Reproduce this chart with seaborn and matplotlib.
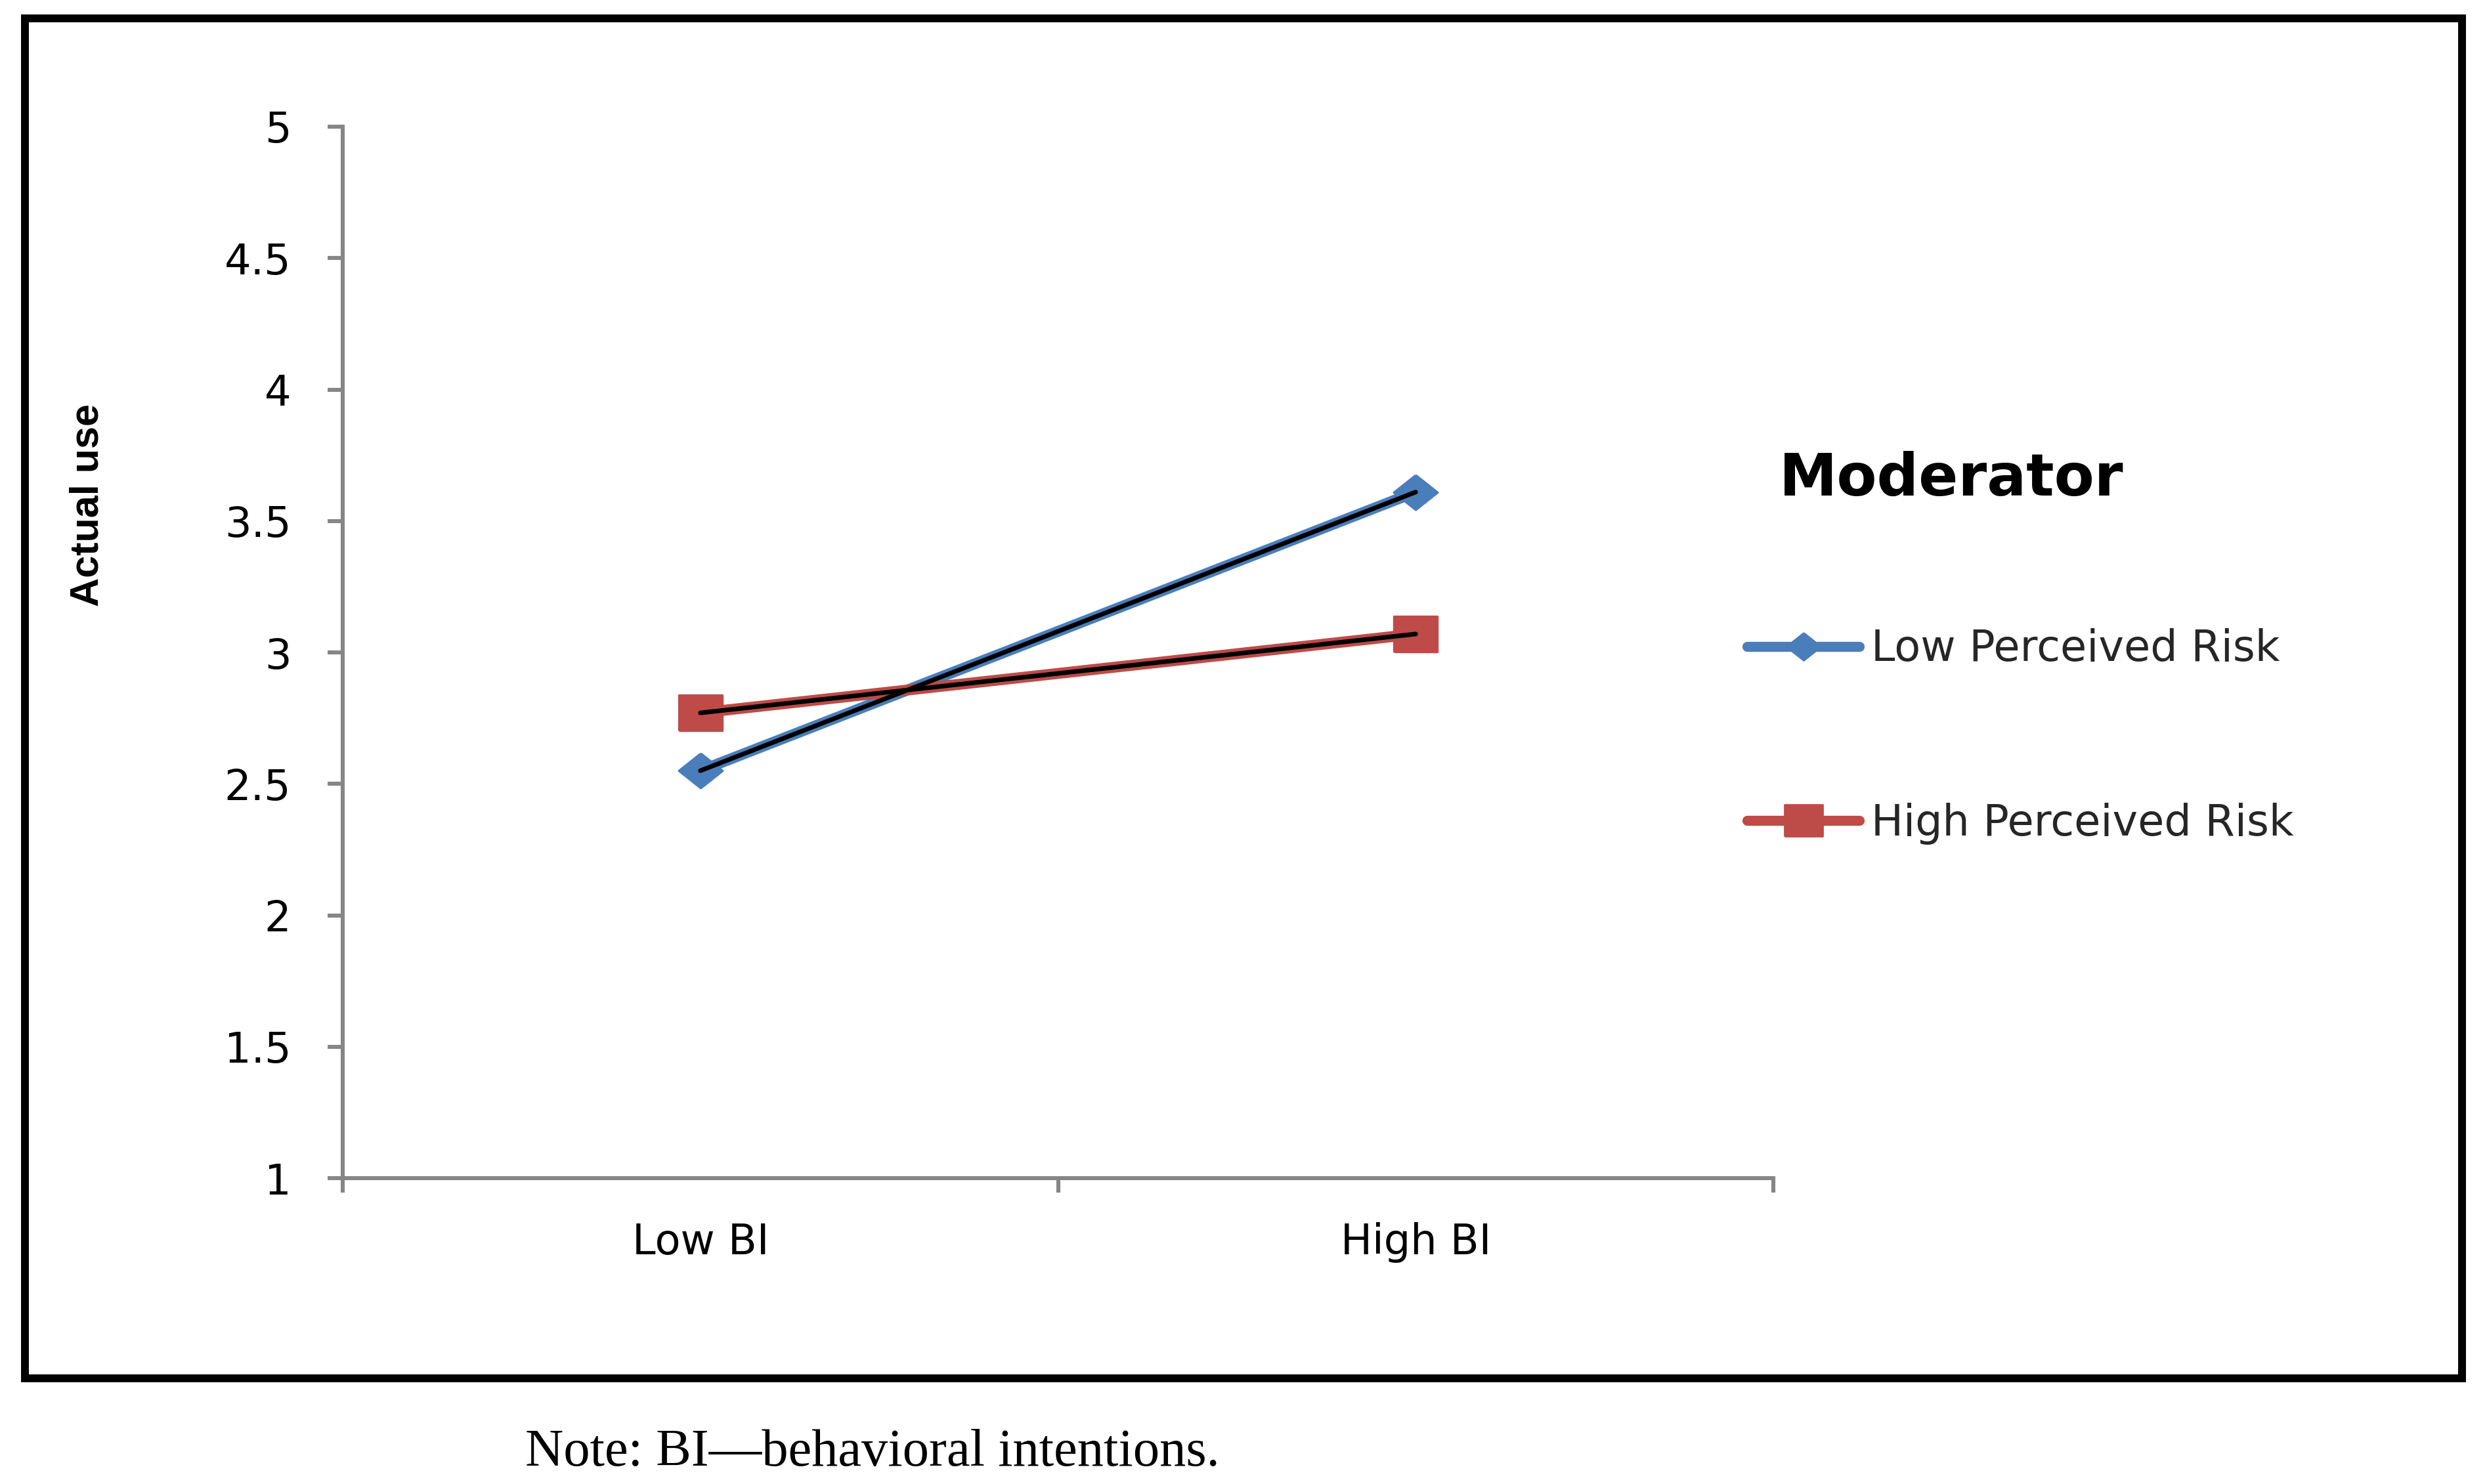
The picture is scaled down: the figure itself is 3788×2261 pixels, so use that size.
import numpy as np
import pandas as pd
import matplotlib
matplotlib.use("Agg")
import matplotlib.pyplot as plt
import seaborn as sns
from matplotlib.lines import Line2D
from matplotlib.patches import Rectangle

# ---------------- data ----------------
categories = ["Low BI", "High BI"]
series_names = ["Low Perceived Risk", "High Perceived Risk"]
low_risk_values = [2.55, 3.61]
high_risk_values = [2.77, 3.07]
y_ticks = [1, 1.5, 2, 2.5, 3, 3.5, 4, 4.5, 5]
y_tick_labels = ["1", "1.5", "2", "2.5", "3", "3.5", "4", "4.5", "5"]
legend_title = "Moderator"
y_label = "Actual use"
note_text = "Note: BI\u2014behavioral intentions."

# ---------------- style ----------------
sns.set_style("white")
plt.rcParams["font.family"] = ["DejaVu Sans"]

BLUE = "#4A7EBB"
RED = "#BE4B48"
AXIS_GRAY = "#868686"

W, H, DPI = 3788, 2261, 200
fig = plt.figure(figsize=(W / DPI, H / DPI), dpi=DPI, facecolor="white")
ax = fig.add_axes([522 / W, 1 - 1795 / H, (2701 - 522) / W, (1795 - 193) / H])

df = pd.DataFrame({
    "bi": np.tile(np.arange(len(categories)), len(series_names)),
    "use": low_risk_values + high_risk_values,
    "risk": np.repeat(series_names, len(categories)),
})

square_marker = [(-0.62, -0.5), (0.62, -0.5), (0.62, 0.5), (-0.62, 0.5), (-0.62, -0.5)]
diamond_marker = [(0, 0.5), (0.63, 0), (0, -0.5), (-0.63, 0), (0, 0.5)]

palette = {series_names[0]: BLUE, series_names[1]: RED}
markers = {series_names[0]: diamond_marker, series_names[1]: square_marker}

sns.lineplot(data=df, x="bi", y="use", hue="risk", style="risk",
             hue_order=series_names, style_order=series_names,
             palette=palette, markers=markers, dashes=False,
             linewidth=6.0, markersize=24, markeredgewidth=1.2,
             estimator=None, sort=False, legend=False, ax=ax, zorder=2)
for ln in ax.lines:
    ln.set_markeredgecolor(ln.get_color())
    ln.set_linewidth(6.0)

# black overlay lines
sns.lineplot(data=df, x="bi", y="use", units="risk", estimator=None,
             color="black", linewidth=2.5, sort=False, legend=False,
             ax=ax, zorder=4, solid_capstyle="round")

# ---------------- axes ----------------
ax.set_xlim(-0.5, 1.5)
ax.set_ylim(1, 5)
ax.set_xticks(range(len(categories)))
ax.set_xticklabels(categories)
ax.set_xticks([-0.5, 0.5, 1.5], minor=True)
ax.set_yticks(y_ticks)
ax.set_yticklabels(y_tick_labels)
ax.tick_params(axis="x", which="major", bottom=True, length=0, pad=24,
               labelsize=23, labelcolor="black")
ax.tick_params(axis="x", which="minor", bottom=True, length=8, width=2.2,
               color=AXIS_GRAY, direction="out")
ax.tick_params(axis="y", which="major", left=True, length=8.3, width=2.2,
               color=AXIS_GRAY, pad=20, labelsize=23, direction="out",
               labelcolor="black")
for s in ["top", "right"]:
    ax.spines[s].set_visible(False)
for s in ["left", "bottom"]:
    ax.spines[s].set_color(AXIS_GRAY)
    ax.spines[s].set_linewidth(2.2)
ax.set_xlabel("")
ax.set_ylabel(y_label, fontfamily="Liberation Sans", fontweight="bold",
              fontsize=22, color="black")
ax.yaxis.set_label_coords(-0.178, 0.64)
ax.yaxis.label.set_va("center")

# ---------------- legend ----------------
h1 = Line2D([], [], color=BLUE, lw=5.5, marker=diamond_marker, ms=19,
            mec=BLUE, mfc=BLUE, solid_capstyle="round")
h2 = Line2D([], [], color=RED, lw=5.5, marker=square_marker, ms=21,
            mec=RED, mfc=RED, solid_capstyle="round")
fig.legend([h1, h2], series_names, loc="center left",
           bbox_to_anchor=(2661 / W, 1 - 1122 / H), frameon=False,
           fontsize=23.5, handlelength=2.62, handletextpad=0.28,
           labelspacing=3.08, borderpad=0, borderaxespad=0)
fig.text(2710 / W, 1 - 755 / H, legend_title, fontsize=32,
         fontweight="bold", ha="left", va="baseline", color="black")

# ---------------- frame & note ----------------
fig.patches.append(Rectangle((37.5 / W, 1 - 2100 / H), (3750 - 37.5) / W,
                             (2100 - 27.5) / H, transform=fig.transFigure,
                             fill=False, lw=4.3, ec="black"))
fig.text(800 / W, 1 - 2233 / H, note_text, fontfamily="Liberation Serif",
         fontsize=29, ha="left", va="baseline", color="black")

fig.savefig("out.png", dpi=DPI, facecolor="white")
